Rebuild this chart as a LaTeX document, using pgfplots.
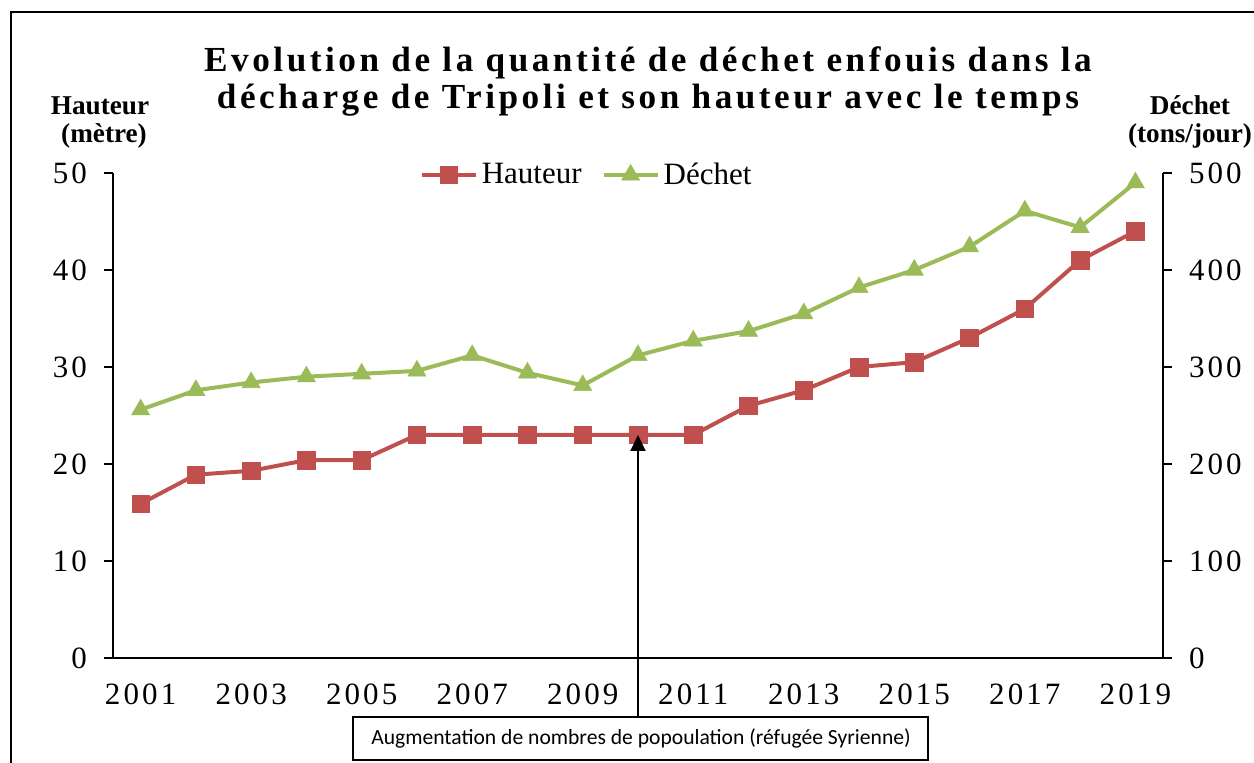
\documentclass[border=0pt]{standalone}
\usepackage{pgfplots}
\pgfplotsset{compat=1.18}
\usepackage{fontspec}
\setmainfont{Liberation Serif}
\newfontfamily\titlefont[LetterSpace=10]{Liberation Serif}
\newfontfamily\tickfont[LetterSpace=10]{Liberation Serif}
\newfontfamily\boxfont{Carlito}
\usetikzlibrary{arrows.meta}
\definecolor{cred}{HTML}{C0504D}
\definecolor{cgreen}{HTML}{9BBB59}

\pgfplotstableread{
year haut
2001 15.9
2002 18.9
2003 19.3
2004 20.4
2005 20.4
2006 23.0
2007 23.0
2008 23.0
2009 23.0
2010 23.0
2011 23.0
2012 26.0
2013 27.6
2014 30.0
2015 30.5
2016 33.0
2017 36.0
2018 41.0
2019 44.0
}\hauteur

\pgfplotstableread{
year dech
2001 256
2002 276
2003 284
2004 290
2005 293
2006 296
2007 312
2008 294
2009 281
2010 312
2011 327
2012 337
2013 355
2014 382
2015 400
2016 424
2017 461
2018 444
2019 490
}\dechet

\pgfplotsset{
  common/.style={
    at={(56.5pt,-329pt)}, anchor=south west,
    scale only axis, width=525pt, height=242.5pt,
    xmin=2000.5, xmax=2019.5,
    axis line style={line width=0.9pt, -},
    tick align=outside, major tick length=4.5pt,
    ticklabel style={font=\tickfont\fontsize{15.5}{18}\selectfont},
    ytick style={line width=0.9pt, black},
    clip=false,
  }
}

\begin{document}
\begin{tikzpicture}[x=0.5pt,y=-0.5pt]
\useasboundingbox (0,0) rectangle (1254,763);
\draw[line width=1pt] (11,800) -- (11,12) -- (1300,12);

\begin{axis}[common,
  ymin=0, ymax=50,
  axis y line*=left, axis x line*=bottom,
  xtick={2001,2003,...,2019},
  xticklabels={2001,2003,2005,2007,2009,2011,2013,2015,2017,2019},
  xtick style={draw=none},
  xticklabel style={yshift=-5pt},
  ytick={0,10,...,50},
  yticklabels={0,10,20,30,40,50},
  yticklabel style={xshift=-5pt},
  legend columns=2,
  legend style={at={(0.452,0.996)}, anchor=center, draw=none, fill=none,
    font=\fontsize{15.5}{18}\selectfont,
    /tikz/every even column/.append style={column sep=8pt}},
  legend image code/.code={\draw[mark repeat=2,mark phase=2] plot coordinates {(0pt,0pt)(13.5pt,0pt)(27pt,0pt)};},
]
\addplot[cred, line width=2pt, mark=square*, mark size=4.4pt, mark options={solid, line width=0.3pt}] table[x=year,y=haut] {\hauteur};
\addlegendentry{Hauteur}
\addlegendimage{cgreen, line width=2pt, mark=triangle*, mark size=5.2pt, mark options={solid, line width=0.3pt}}
\addlegendentry{Déchet}
\end{axis}

\begin{axis}[common,
  ymin=0, ymax=500,
  axis y line*=right, axis x line=none,
  ytick={0,100,...,500},
  yticklabels={0,100,200,300,400,500},
  yticklabel style={xshift=5pt},
]
\addplot[cgreen, line width=2pt, mark=triangle*, mark size=5.2pt, mark options={solid, line width=0.3pt}] table[x=year,y=dech] {\dechet};
\end{axis}

\node[anchor=base, font=\titlefont\bfseries\fontsize{17.6}{19.5}\selectfont] at (648,72) {Evolution de la quantité de déchet enfouis dans la};
\node[anchor=base, font=\titlefont\bfseries\fontsize{17.6}{19.5}\selectfont] at (648,109) {décharge de Tripoli et son hauteur avec le temps};

\node[anchor=base, font=\bfseries\fontsize{13.6}{15}\selectfont] at (100,115) {Hauteur};
\node[anchor=base, font=\bfseries\fontsize{13.6}{15}\selectfont] at (104,143) {(mètre)};
\node[anchor=base, font=\bfseries\fontsize{13.6}{15}\selectfont] at (1190,115) {Déchet};
\node[anchor=base, font=\bfseries\fontsize{13.6}{15}\selectfont] at (1190,143) {(tons/jour)};

\draw[line width=0.75pt] (353,717) rectangle (928,760);
\node[font=\boxfont\fontsize{10.8}{12}\selectfont] at (641,738.5) {Augmentation de nombres de popoulation (réfugée Syrienne)};
\draw[line width=1pt, -{Triangle[length=8pt,width=7.5pt]}] (638,717) -- (638,435);
\end{tikzpicture}
\end{document}
